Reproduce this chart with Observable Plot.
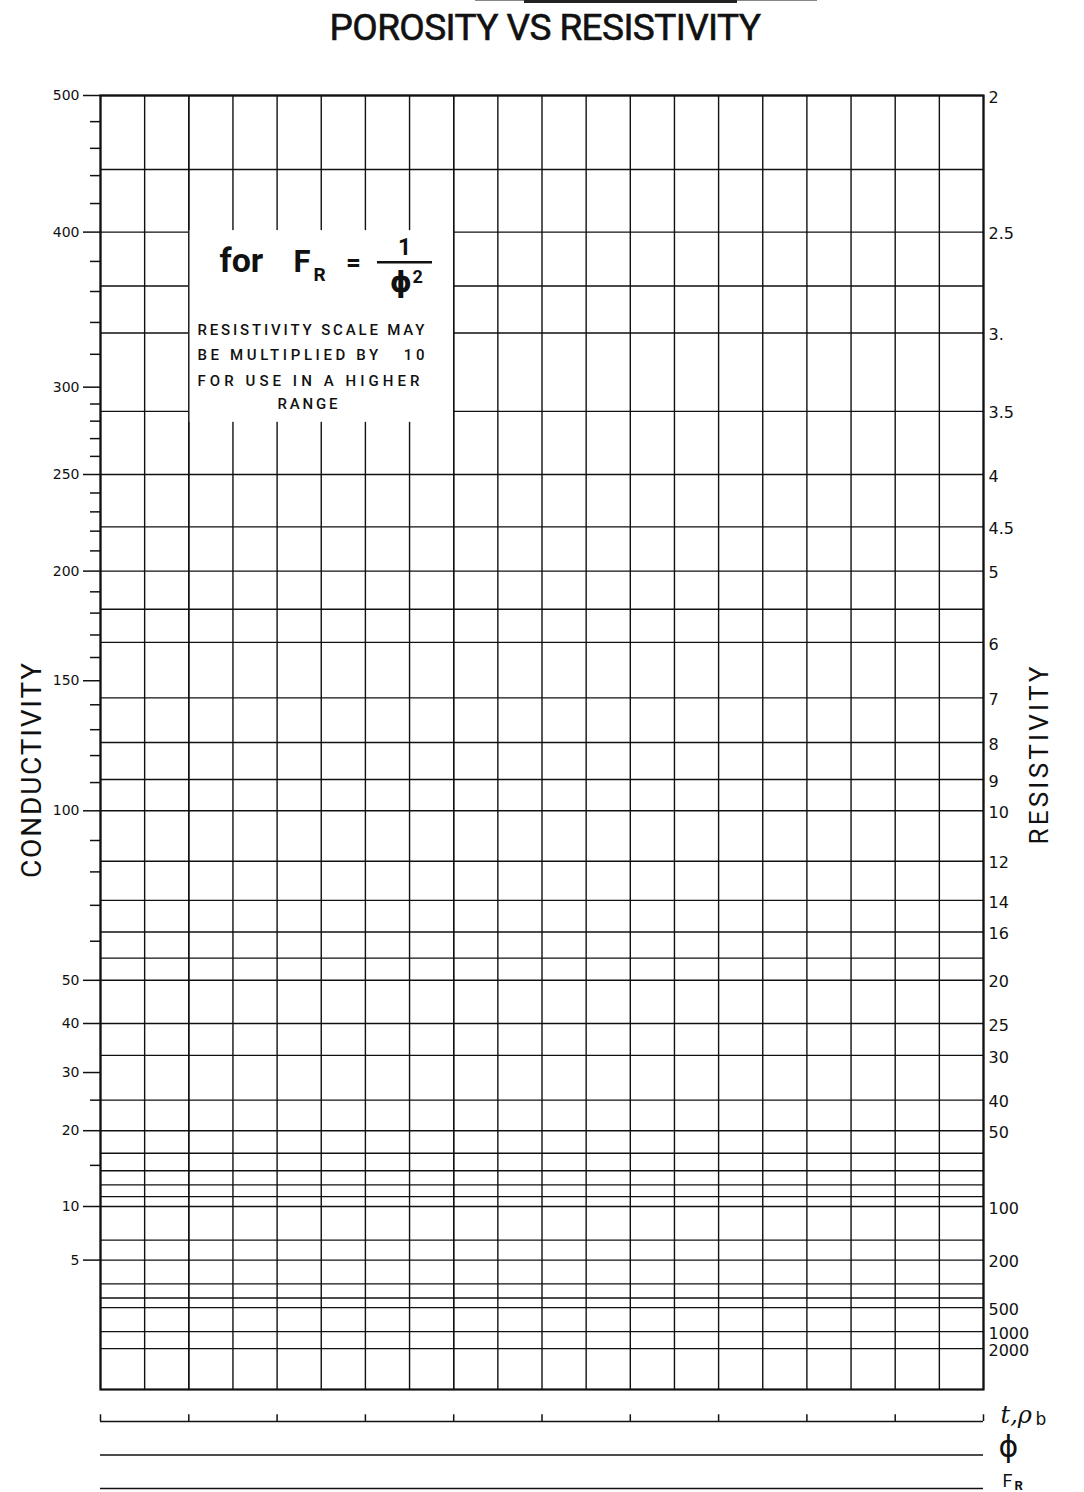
<!DOCTYPE html>
<html>
<head>
<meta charset="utf-8">
<script src="https://cdn.jsdelivr.net/npm/d3@7"></script>
<script src="https://cdn.jsdelivr.net/npm/@observablehq/plot@0.6"></script>
<style>
  html, body { margin: 0; padding: 0; background: #fff; }
  body { position: relative; width: 1084px; height: 1492px; overflow: hidden; }
  #title { position: absolute; left: 0; top: 0; width: 1084px; height: 56px; line-height: 56px;
           text-align: center; font-family: Roboto, sans-serif; font-weight: 400; font-size: 37px;
           letter-spacing: -0.6px; color: #111; padding-left: 6px; box-sizing: border-box;
           -webkit-text-stroke: 0.6px #111; }
  #main { position: absolute; left: 0; top: 60px; }
  #scales { position: absolute; left: 0; top: 1394px; }
  .scan { position: absolute; background: #222; }
</style>
</head>
<body>
<div class="scan" style="left:475px;top:0;width:342px;height:1px;background:#888"></div>
<div class="scan" style="left:524px;top:0;width:213px;height:3px"></div>
<div class="scan" style="left:1074px;top:657px;width:2px;height:166px;background:#999"></div>
<div id="title">POROSITY VS RESISTIVITY</div>
<div id="main"></div>
<div id="scales"></div>
<script>
// ---------- data ----------
const gridColumns = [0,1,2,3,4,5,6,7,8,9,10,11,12,13,14,15,16,17,18,19,20];
const resistivityGrid = [2,2.25,2.5,2.75,3,3.5,4,4.5,5,5.5,6,7,8,9,10,12,14,16,18,20,25,30,40,50,60,70,80,90,100,150,200,300,400,500,1000,2000];
const resistivityTicks = [2,2.5,3,3.5,4,4.5,5,6,7,8,9,10,12,14,16,20,25,30,40,50,100,200,500,1000,2000];
const resistivityTickLabels = ["2","2.5","3.","3.5","4","4.5","5","6","7","8","9","10","12","14","16","20","25","30","40","50","100","200","500","1000","2000"];
const conductivityMajor = [500,400,300,250,200,150,100,50,40,30,20,10,5];
const conductivityMinor = [480,460,440,420,380,360,340,320,290,280,270,260,240,230,220,210,190,180,170,160,140,130,120,110,90,80,70,60,25,15];
const bottomScaleRows = [0, 1, 2];            // t,ρb ; ϕ ; F_R
const bottomTickColumns = [0,2,4,6,8,10,12,14,16,18,20];
const noteLines = ["RESISTIVITY SCALE MAY", "BE MULTIPLIED BY\u00a0\u00a0\u00a010", "FOR USE IN A HIGHER", "RANGE"];
const noteBox = {col1: 2, col2: 8, rTop: 2.5, rBottom: 3.58};
const K = 1000; // conductivity = 1000 / resistivity

const cond = r => K / r;
const labelByC = new Map(resistivityTicks.map((r, i) => [cond(r), resistivityTickLabels[i]]));
const ink = "#111";

const T = (txt, o) => Plot.text([txt], {text: d => d, textAnchor: "start", lineAnchor: "bottom", fill: ink, fontFamily: "Roboto", ...o});

// ---------- main chart ----------
const main = Plot.plot({
  width: 1084, height: 1334,
  marginTop: 35, marginBottom: 5, marginLeft: 100, marginRight: 101,
  x: {domain: [0, 20], axis: null},
  y: {type: "sqrt", domain: [0, 500]},
  style: {background: "white", color: ink, fontFamily: "DejaVu Sans"},
  marks: [
    Plot.ruleY(resistivityGrid, {y: cond, x1: 0, x2: 20, stroke: ink, strokeWidth: 1.4}),
    Plot.ruleX(gridColumns, {x: d => d, y1: 0, y2: 500, stroke: ink, strokeWidth: 1.4}),
    Plot.rect([noteBox], {x1: "col1", x2: "col2", y1: d => cond(d.rBottom), y2: d => cond(d.rTop), fill: "white", insetTop: -1.5}),
    Plot.ruleX([noteBox.col1, noteBox.col2], {x: d => d, y1: 0, y2: 500, stroke: ink, strokeWidth: 1.4}),
    Plot.frame({stroke: ink, strokeWidth: 2.2}),
    Plot.axisY({anchor: "left", ticks: conductivityMajor, tickSize: 17, tickPadding: 4, strokeWidth: 1.5,
      tickFormat: d => String(d), fontSize: 14, fontFamily: "DejaVu Sans", label: null}),
    Plot.axisY({anchor: "left", ticks: conductivityMinor, tickSize: 10, strokeWidth: 1.5,
      tickFormat: () => "", label: null}),
    Plot.axisY({anchor: "right", ticks: resistivityTicks.map(cond), tickSize: 0, tickPadding: 5, dy: 2,
      tickFormat: d => labelByC.get(d), fontSize: 16, fontFamily: "DejaVu Sans", label: null}),
    // axis titles
    Plot.text(["CONDUCTIVITY"], {text: d => d, frameAnchor: "left", textAnchor: "middle", lineAnchor: "middle",
      rotate: -90, dx: -68, dy: 28, fontSize: 28, fontFamily: "Roboto", fill: ink}),
    Plot.text(["RESISTIVITY"], {text: d => d, frameAnchor: "right", textAnchor: "middle", lineAnchor: "middle",
      rotate: -90, dx: 56, dy: 13, fontSize: 26, fontFamily: "Roboto", fill: ink}),
    // formula  for F_R = 1/ϕ²
    T("for", {x: 2.695, y: 372.6, fontSize: 34, fontWeight: 700}),
    T("F", {x: 4.371, y: 372.6, fontSize: 31, fontWeight: 700}),
    T("R", {x: 4.824, y: 366.7, fontSize: 19, fontWeight: 700}),
    T("=", {x: 5.73, y: 379.4, fontSize: 26, fontWeight: 700, textAnchor: "middle", lineAnchor: "middle"}),
    T("1", {x: 6.886, y: 384.1, fontSize: 23, fontWeight: 700, textAnchor: "middle"}),
    Plot.ruleY([379.4], {x1: 6.274, x2: 7.52, stroke: ink, strokeWidth: 2.6}),
    T("ϕ", {x: 6.806, y: 359.4, fontSize: 28, fontWeight: 700, fontFamily: "DejaVu Sans", textAnchor: "middle"}),
    T("2", {x: 7.067, y: 365.4, fontSize: 18, fontWeight: 700}),
    // note
    T(noteLines[0], {x: 2.197, y: 331.8, fontSize: 15, fontWeight: 500}),
    T(noteLines[1], {x: 2.197, y: 316.3, fontSize: 15, fontWeight: 500}),
    T(noteLines[2], {x: 2.197, y: 300.5, fontSize: 15, fontWeight: 500}),
    T(noteLines[3], {x: 4.688, y: 286.9, fontSize: 15, fontWeight: 500, textAnchor: "middle"})
  ]
});

// ---------- bottom scales ----------
const scales = Plot.plot({
  width: 1084, height: 98,
  marginTop: 27, marginBottom: 4, marginLeft: 100, marginRight: 101,
  x: {domain: [0, 20], axis: null},
  y: {domain: [0, 2], reverse: true, axis: null},
  style: {background: "white", color: ink},
  marks: [
    Plot.ruleY(bottomScaleRows, {y: d => d, x1: 0, x2: 20, stroke: ink, strokeWidth: 1.5}),
    Plot.ruleX(bottomTickColumns, {x: d => d, y1: 0, y2: -0.2, stroke: ink, strokeWidth: 1.5}),
    T("t,ρ", {frameAnchor: "right", y: 0, dx: 17, dy: 1, fontSize: 24, fontStyle: "italic", fontFamily: "DejaVu Serif"}),
    T("b", {frameAnchor: "right", y: 0, dx: 52, dy: 3, fontSize: 17, fontFamily: "DejaVu Sans"}),
    T("ϕ", {frameAnchor: "right", y: 1, dx: 15, dy: 2, fontSize: 30, fontFamily: "DejaVu Sans"}),
    T("F", {frameAnchor: "right", y: 2, dx: 19, dy: -2, fontSize: 18, fontFamily: "Roboto"}),
    T("R", {frameAnchor: "right", y: 2, dx: 31, dy: 1, fontSize: 13, fontWeight: 700, fontFamily: "Roboto"})
  ]
});

const lengths = new Map([
  ["CONDUCTIVITY", 215], ["RESISTIVITY", 178],
  [noteLines[0], 227], [noteLines[1], 227], [noteLines[2], 222], [noteLines[3], 60]
]);
d3.select(main).selectAll("text").each(function() {
  const L = lengths.get(this.textContent);
  if (L) { this.setAttribute("textLength", L); this.setAttribute("lengthAdjust", "spacing"); }
});

document.getElementById("main").append(main);
document.getElementById("scales").append(scales);
</script>
</body>
</html>
